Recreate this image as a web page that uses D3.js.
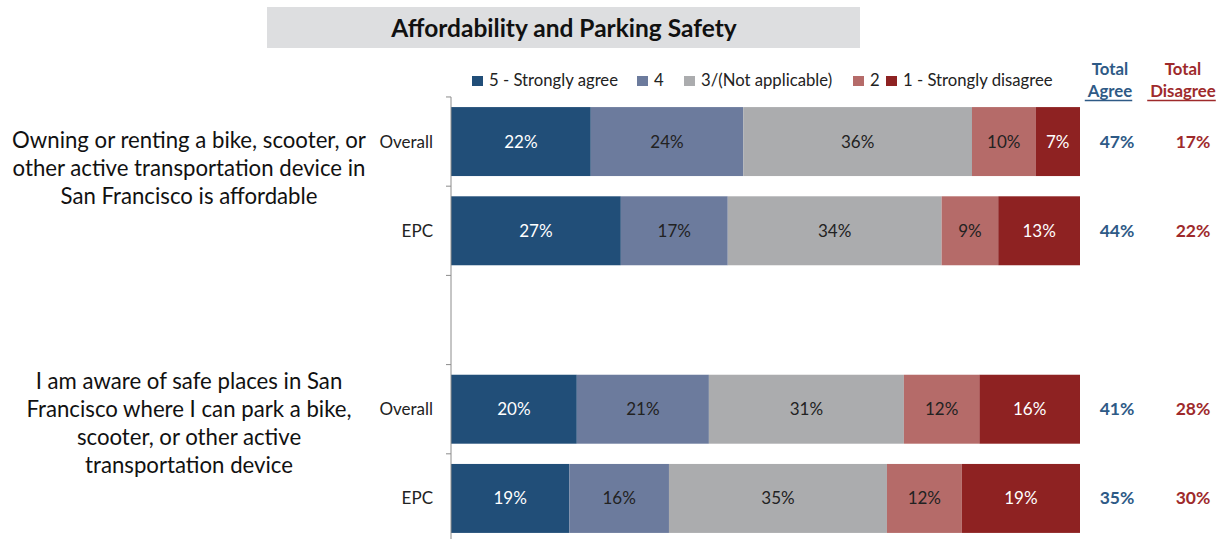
<!DOCTYPE html>
<html>
<head>
<meta charset="utf-8">
<script src="https://cdn.jsdelivr.net/npm/d3@7"></script>
<style>
  body { margin: 0; background: #fff; }
  svg { display: block; font-family: Lato, "Open Sans", sans-serif; }
</style>
</head>
<body>
<svg id="chart" width="1227" height="539"></svg>
<script>
// rows of the chart, the empty one makes the gap between the two questions
var rows = ["q1-overall", "q1-epc", "gap", "q2-overall", "q2-epc"];
var rowLabels = ["Overall", "EPC", "", "Overall", "EPC"];
var dataRows = ["q1-overall", "q1-epc", "q2-overall", "q2-epc"];

var levels = ["5 - Strongly agree", "4", "3/(Not applicable)", "2", "1 - Strongly disagree"];
var s5 = [22, 27, 20, 19];
var s4 = [24, 17, 21, 16];
var s3 = [36, 34, 31, 35];
var s2 = [10, 9, 12, 12];
var s1 = [7, 13, 16, 19];

var totalAgree = [47, 44, 41, 35];
var totalDisagree = [17, 22, 28, 30];

var questions = [
    ["Owning or renting a bike, scooter, or", "other active transportation device in", "San Francisco is affordable"],
    ["I am aware of safe places in San", "Francisco where I can park a bike,", "scooter, or other active", "transportation device"]
];

var colors = ["#214e78", "#6c7b9d", "#abacae", "#b56b69", "#8e2222"];
var labelColors = ["#fff", "#222", "#222", "#222", "#fff"];

var svg = d3.select("#chart");

var table = dataRows.map(function (r, i) {
    return { row: r, l0: s5[i], l1: s4[i], l2: s3[i], l3: s2[i], l4: s1[i] };
});
var keys = ["l0", "l1", "l2", "l3", "l4"];

var stack = d3.stack().keys(keys).offset(d3.stackOffsetExpand);
var series = stack(table);

var x = d3.scaleLinear().domain([0, 1]).range([451, 1080]);
var y = d3.scaleBand().domain(rows).range([97, 543]).paddingInner(0.227).paddingOuter(0.113);

// title box
svg.append("rect")
    .attr("x", 267).attr("y", 7).attr("width", 593).attr("height", 41)
    .attr("fill", "#dddee0");
svg.append("text")
    .attr("x", 564).attr("y", 37)
    .attr("text-anchor", "middle")
    .style("font-size", "24.5px").style("font-weight", "bold").style("fill", "#111")
    .text("Affordability and Parking Safety");

// legend
var legendX = [472, 637, 684, 853, 886];
var legend = svg.append("g").selectAll("g")
    .data(levels)
    .enter().append("g")
    .attr("transform", function (d, i) { return "translate(" + legendX[i] + ",81)"; });
legend.append("rect")
    .attr("x", 0).attr("y", -5).attr("width", 11).attr("height", 10)
    .attr("fill", function (d, i) { return colors[i]; });
legend.append("text")
    .attr("x", 17).attr("y", 5)
    .style("font-size", "16.7px").style("fill", "#222")
    .text(function (d) { return d; });

// bars
var layer = svg.append("g").selectAll("g")
    .data(series)
    .enter().append("g")
    .attr("fill", function (d, i) { return colors[i]; });

layer.selectAll("rect")
    .data(function (d) { return d; })
    .enter().append("rect")
    .attr("x", function (d) { return x(d[0]); })
    .attr("width", function (d) { return x(d[1]) - x(d[0]); })
    .attr("y", function (d) { return y(d.data.row); })
    .attr("height", y.bandwidth());

layer.each(function (s, i) {
    d3.select(this).selectAll("text")
        .data(s)
        .enter().append("text")
        .attr("x", function (d) { return (x(d[0]) + x(d[1])) / 2; })
        .attr("y", function (d) { return y(d.data.row) + y.bandwidth() / 2 + 6; })
        .attr("text-anchor", "middle")
        .style("font-size", "17px")
        .style("fill", labelColors[i])
        .text(function (d) { return d.data[keys[i]] + "%"; });
});

// axis line and ticks at band edges
var step = y.step();
var edges = rows.map(function (r) { return y(r) - step * 0.1135; });
edges.push(edges[edges.length - 1] + step);
svg.append("line")
    .attr("x1", 451).attr("x2", 451)
    .attr("y1", edges[0]).attr("y2", edges[edges.length - 1])
    .attr("stroke", "#8c8c8c");
svg.append("g").selectAll("line")
    .data(edges)
    .enter().append("line")
    .attr("x1", 446).attr("x2", 451)
    .attr("y1", function (d) { return d; }).attr("y2", function (d) { return d; })
    .attr("stroke", "#8c8c8c");

// row labels
svg.append("g").selectAll("text")
    .data(rows.filter(function (r, i) { return rowLabels[i] !== ""; }))
    .enter().append("text")
    .attr("x", 433)
    .attr("y", function (d) { return y(d) + y.bandwidth() / 2 + 6; })
    .attr("text-anchor", "end")
    .style("font-size", "17px").style("fill", "#222")
    .text(function (d) { return rowLabels[rows.indexOf(d)]; });

// question text
var qTop = [140, 381];
questions.forEach(function (lines, qi) {
    svg.append("text")
        .attr("text-anchor", "middle")
        .style("font-size", "22.2px").style("fill", "#111")
        .selectAll("tspan")
        .data(lines)
        .enter().append("tspan")
        .attr("x", 189)
        .attr("y", function (d, i) { return qTop[qi] + 8 + i * 28; })
        .text(function (d) { return d; });
});

// totals headers
function header(cx, color, lines) {
    var g = svg.append("g").style("fill", color).style("font-weight", "bold").style("font-size", "16.8px");
    g.append("text").attr("x", cx).attr("y", 75).attr("text-anchor", "middle").text(lines[0]);
    var t = g.append("text").attr("x", cx).attr("y", 97).attr("text-anchor", "middle").text(lines[1]);
    var w = t.node().getComputedTextLength();
    g.append("line")
        .attr("x1", cx - w / 2 - 3).attr("x2", cx + w / 2)
        .attr("y1", 100.5).attr("y2", 100.5)
        .attr("stroke", color).attr("stroke-width", 1.5);
}
header(1110, "#2e5a86", ["Total", "Agree"]);
header(1183, "#9e2a2b", ["Total", "Disagree"]);

// totals values
svg.append("g").selectAll("text")
    .data(dataRows)
    .enter().append("text")
    .attr("x", 1117)
    .attr("y", function (d) { return y(d) + y.bandwidth() / 2 + 6; })
    .attr("text-anchor", "middle")
    .style("font-size", "17.5px").style("font-weight", "bold").style("fill", "#2e5a86")
    .text(function (d, i) { return totalAgree[i] + "%"; });

svg.append("g").selectAll("text")
    .data(dataRows)
    .enter().append("text")
    .attr("x", 1193)
    .attr("y", function (d) { return y(d) + y.bandwidth() / 2 + 6; })
    .attr("text-anchor", "middle")
    .style("font-size", "17.5px").style("font-weight", "bold").style("fill", "#9e2a2b")
    .text(function (d, i) { return totalDisagree[i] + "%"; });
</script>
</body>
</html>
